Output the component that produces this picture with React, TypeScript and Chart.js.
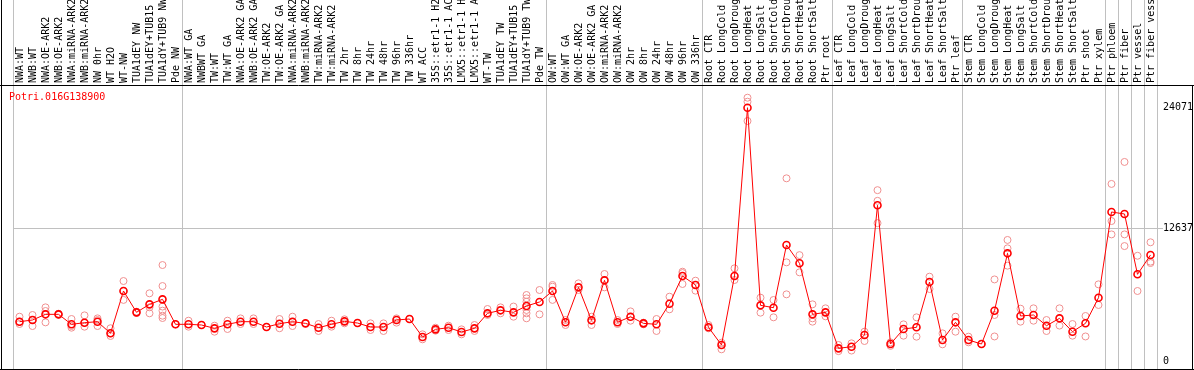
import React, { useEffect, useRef } from 'react';
import { Chart, registerables } from 'chart.js';

Chart.register(...registerables);

const GENE = 'Potri.016G138900';

const categories: string[] = [
  'NWA:WT', 'NWB:WT', 'NWA:OE-ARK2', 'NWB:OE-ARK2', 'NWA:miRNA-ARK2', 'NWB:miRNA-ARK2',
  'NW 0hr', 'WT H2O', 'WT-NW', 'TUA1dEY NW', 'TUA1dEY+TUB15', 'TUA1dY+TUB9 NW', 'Pde NW',
  'NWA:WT GA', 'NWBWT GA', 'TW:WT', 'TW:WT GA', 'NWA:OE-ARK2 GA', 'NWB:OE-ARK2 GA',
  'TW:OE-ARK2', 'TW:OE-ARK2 GA', 'NWA:miRNA-ARK2', 'NWB:miRNA-ARK2', 'TW:miRNA-ARK2',
  'TW:miRNA-ARK2', 'TW 2hr', 'TW 8hr', 'TW 24hr', 'TW 48hr', 'TW 96hr', 'TW 336hr',
  'WT ACC', '35S::etr1-1 H2', '35S::etr1-1 AC', 'LMX5::etr1-1 H', 'LMX5::etr1-1 A',
  'WT-TW', 'TUA1dEY TW', 'TUA1dEY+TUB15', 'TUA1dY+TUB9 TW', 'Pde TW',
  'OW:WT', 'OW:WT GA', 'OW:OE-ARK2', 'OW:OE-ARK2 GA', 'OW:miRNA-ARK2', 'OW:miRNA-ARK2',
  'OW 2hr', 'OW 8hr', 'OW 24hr', 'OW 48hr', 'OW 96hr', 'OW 336hr',
  'Root CTR', 'Root LongCold', 'Root LongDroug', 'Root LongHeat', 'Root LongSalt',
  'Root ShortCold', 'Root ShortDrou', 'Root ShortHeat', 'Root ShortSalt', 'Ptr root',
  'Leaf CTR', 'Leaf LongCold', 'Leaf LongDroug', 'Leaf LongHeat', 'Leaf LongSalt',
  'Leaf ShortCold', 'Leaf ShortDrou', 'Leaf ShortHeat', 'Leaf ShortSalt', 'Ptr leaf',
  'Stem CTR', 'Stem LongCold', 'Stem LongDroug', 'Stem LongHeat', 'Stem LongSalt',
  'Stem ShortCold', 'Stem ShortDrou', 'Stem ShortHeat', 'Stem ShortSalt', 'Ptr shoot',
  'Ptr xylem', 'Ptr phloem', 'Ptr fiber', 'Ptr vessel', 'Ptr fiber vess',
];

const means: number[] = [
  3791, 3952, 4489, 4489, 3542, 3696, 3791, 2690, 6700, 4678,
  5436, 5910, 3542, 3542, 3477, 3161, 3542, 3791, 3791, 3288,
  3603, 3791, 3633, 3222, 3542, 3823, 3664, 3288, 3288, 3952,
  4047, 2341, 3065, 3222, 2815, 3161, 4584, 4868, 4678, 5279,
  5658, 6700, 3734, 7048, 3920, 7711, 3734, 4265, 3633, 3542,
  5497, 8121, 7268, 3258, 1583, 8122, 24071, 5342, 5118, 11060,
  9323, 4489, 4678, 1266, 1423, 2528, 14820, 1675, 3097, 3258,
  7552, 2057, 3731, 2057, 1675, 4834, 10270, 4331, 4426, 3412,
  4110, 2843, 3637, 6066, 14187, 13997, 8281, 10112,
];

const replicates: number[][] = [
  [4265, 3791, 3573], [4426, 3952, 3380], [5151, 4805, 3728], [4550, 4489, 4430],
  [4047, 3380, 3222], [4391, 3696, 3317], [4107, 3950, 3380], [3170, 2690, 2437],
  [7646, 6700, 5855], [4740, 4620], [6482, 5155, 4587], [9160, 7170, 5226, 4837, 4360, 4140],
  [3542, 3542], [3885, 3317], [3477], [3412, 2843], [3885, 3099], [4107, 3570],
  [4107, 3570], [3288], [4047, 3170], [4265, 3380], [3633], [3570, 2912],
  [3885, 3317], [4018, 3639], [3664], [3639, 3004], [3633, 2912], [4107, 3700],
  [4047], [2595, 2121], [3222, 2940], [3412, 3000], [3065, 2590], [3477, 2912],
  [4995, 4426], [5151, 4584], [5226, 4265], [6321, 6008, 5686, 4900, 4587, 4113],
  [6794, 4489], [7269, 7108, 5855], [3952, 3477], [7425, 6794], [4265, 3477],
  [8311, 7048], [3952, 3570], [4768, 3885], [3700, 3540], [4047, 2912],
  [6162, 4963], [8532, 8400, 7364], [7680, 6731], [3478, 3165], [1801, 1175],
  [8850, 7743], [25019, 24640, 22811], [6068, 4647], [5847, 4205], [17378, 9417, 6384],
  [10100, 8469], [5437, 4110, 3792], [5058, 4300], [1583, 1000], [1740, 1056],
  [2844, 1960], [16256, 15245, 13131], [1830, 1500], [3540, 2466], [4205, 2371],
  [8058, 6888], [2686, 1646], [4268, 2844], [2369, 1838], [1675],
  [7796, 4426, 2391], [11537, 10744, 9101], [5024, 3792], [5058, 3886], [3950, 2907],
  [5058, 3423], [3570, 2466], [4331, 2391], [7330, 5374], [16847, 13328, 12064],
  [18930, 12064, 10958], [10038, 6700], [11316, 9480, 9350],
];

const groupStarts: number[] = [0, 13, 41, 53, 63, 73, 84, 85, 86, 87];
const yTickValues: number[] = [0, 12637, 24071];
const gridTickValue = 12637;

export default function App() {
  const ref = useRef<HTMLCanvasElement>(null);

  useEffect(() => {
    document.body.style.margin = '0';
    const canvas = ref.current;
    if (!canvas) return;

    const GRID = '#c0c0c0';
    const NONE = 'rgba(0,0,0,0)';
    const font = { family: '"DejaVu Sans Mono", monospace', size: 10 };

    const repPoints = replicates.flatMap((r, i) => r.map((v) => ({ x: i, y: v })));

    const xGridColor = (c: any) =>
      c.index === undefined || groupStarts.includes(c.index) ? GRID : NONE;
    const yGridColor = (c: any) => (c.tick && c.tick.value === gridTickValue ? GRID : NONE);

    const framePlugin = {
      id: 'frame',
      afterDraw(chart: any) {
        const { ctx, width, height, chartArea } = chart;
        ctx.save();
        ctx.strokeStyle = '#000';
        ctx.lineWidth = 1;
        ctx.beginPath();
        ctx.moveTo(1.5, 0);
        ctx.lineTo(1.5, height);
        ctx.moveTo(0, chartArea.top + 0.5);
        ctx.lineTo(width, chartArea.top + 0.5);
        ctx.moveTo(0, chartArea.bottom + 0.5);
        ctx.lineTo(width, chartArea.bottom + 0.5);
        ctx.moveTo(width - 1.5, chartArea.top);
        ctx.lineTo(width - 1.5, height);
        ctx.stroke();
        ctx.fillStyle = '#ff0000';
        ctx.font = '10px "DejaVu Sans Mono", monospace';
        ctx.textBaseline = 'middle';
        ctx.textAlign = 'left';
        ctx.fillText(GENE, 9, chartArea.top + 12);
        ctx.restore();
      },
    };

    const chart = new Chart(canvas, {
      type: 'line',
      data: {
        labels: categories,
        datasets: [
          {
            label: 'mean',
            data: means,
            xAxisID: 'x',
            yAxisID: 'y',
            borderColor: '#ff0000',
            borderWidth: 1,
            pointRadius: 3.5,
            pointBorderWidth: 1.6,
            pointBorderColor: '#ff0000',
            pointBackgroundColor: NONE,
            tension: 0,
            order: 0,
          },
          {
            label: 'replicates',
            data: repPoints as any,
            xAxisID: 'xr',
            yAxisID: 'y',
            showLine: false,
            pointRadius: 3.5,
            pointBorderWidth: 1,
            pointBorderColor: '#f09090',
            pointBackgroundColor: NONE,
            order: 1,
          },
        ],
      },
      options: {
        animation: false,
        responsive: false,
        layout: { autoPadding: false, padding: { left: 13, right: 0, top: 0, bottom: 1 } },
        plugins: { legend: { display: false }, tooltip: { enabled: false } },
        scales: {
          x: {
            type: 'category',
            position: 'top',
            offset: true,
            border: { display: false },
            grid: {
              offset: true,
              color: xGridColor,
              tickColor: xGridColor,
              tickLength: 85,
              lineWidth: 1,
            },
            ticks: {
              autoSkip: false,
              minRotation: 90,
              maxRotation: 90,
              font,
              color: '#000',
              padding: -83,
              labelOffset: 13,
            },
            afterFit: (s: any) => {
              s.height = 85;
              s.paddingLeft = 0;
              s.paddingRight = 0;
            },
          },
          xr: {
            type: 'linear',
            display: false,
            min: -0.5,
            max: categories.length - 0.5,
          },
          y: {
            type: 'linear',
            position: 'right',
            min: -692,
            max: 26222,
            border: { display: false },
            afterBuildTicks: (s: any) => {
              s.ticks = yTickValues.map((v) => ({ value: v }));
            },
            grid: {
              drawTicks: true,
              tickLength: 6,
              color: yGridColor,
              tickColor: yGridColor,
            },
            ticks: {
              font,
              color: '#000',
              padding: 0,
              callback: (v: any) => String(v),
            },
            afterFit: (s: any) => {
              s.width = 37;
              s.paddingTop = 0;
              s.paddingBottom = 0;
            },
          },
        },
      },
      plugins: [framePlugin],
    });

    return () => chart.destroy();
  }, []);

  return (
    <div style={{ width: 1194, height: 370 }}>
      <canvas ref={ref} width={1194} height={370} style={{ display: 'block' }} />
    </div>
  );
}
